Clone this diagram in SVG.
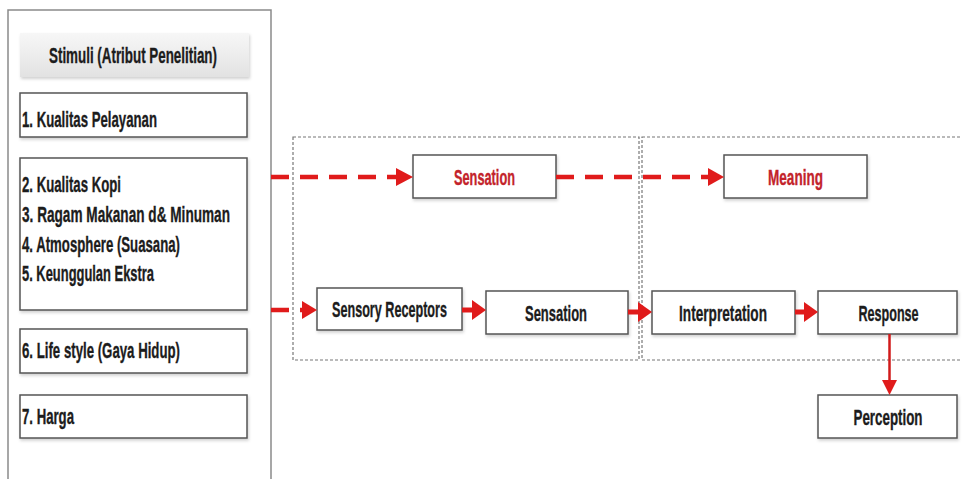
<svg xmlns="http://www.w3.org/2000/svg" width="962" height="479" viewBox="0 0 962 479">
<defs>
<linearGradient id="hdr" x1="0" y1="0" x2="0" y2="1">
<stop offset="0" stop-color="#f7f7f7"/>
<stop offset="1" stop-color="#e2e2e2"/>
</linearGradient>
<filter id="sh" x="-10%" y="-10%" width="120%" height="130%">
<feDropShadow dx="1" dy="2" stdDeviation="1.5" flood-color="#000" flood-opacity="0.18"/>
</filter>
</defs>
<style>
.box{fill:#fff;stroke:#555;stroke-width:1.5;filter:url(#sh)}
.t{font-family:"Liberation Sans",Arial,sans-serif;font-weight:bold;font-size:22.5px;fill:#1c1c1c;stroke:#1c1c1c;stroke-width:0.35}
.r{fill:#c3232b;stroke:#c3232b}
.c{text-anchor:middle}
.cont{fill:none;stroke:#777;stroke-width:1.2;stroke-dasharray:3 2}
.dl{stroke:#e01b1b;stroke-width:4.5;stroke-dasharray:18 11;fill:none}
.sl{stroke:#e01b1b;stroke-width:5;fill:none}
.ah{fill:#e01b1b}
</style>
<rect x="0" y="0" width="962" height="479" fill="#fff"/>
<g id="panel">
<rect x="8" y="10" width="263" height="480" fill="#fff" stroke="#8a8a8a" stroke-width="1.5"/>
</g>
<g id="container-left"><rect class="cont" x="293" y="137" width="346" height="223"/></g>
<g id="container-right"><rect class="cont" x="642" y="137" width="330" height="223"/></g>
<g id="stimuli-header">
<rect x="20" y="33" width="229" height="44" fill="url(#hdr)" filter="url(#sh)"/>
<text class="t c" x="133" y="63" textLength="168" lengthAdjust="spacingAndGlyphs">Stimuli (Atribut Penelitian)</text>
</g>
<g id="stim-1">
<rect class="box" x="20" y="93" width="227" height="44"/>
<text class="t" x="22" y="127" textLength="135" lengthAdjust="spacingAndGlyphs">1. Kualitas Pelayanan</text>
</g>
<g id="stim-2-5">
<rect class="box" x="20" y="158" width="227" height="152"/>
<text class="t" x="22" y="192" textLength="99" lengthAdjust="spacingAndGlyphs">2. Kualitas Kopi</text>
<text class="t" x="22" y="222" textLength="208" lengthAdjust="spacingAndGlyphs">3. Ragam Makanan d&amp; Minuman</text>
<text class="t" x="22" y="252" textLength="158" lengthAdjust="spacingAndGlyphs">4. Atmosphere (Suasana)</text>
<text class="t" x="22" y="281" textLength="132" lengthAdjust="spacingAndGlyphs">5. Keunggulan Ekstra</text>
</g>
<g id="stim-6">
<rect class="box" x="20" y="329" width="227" height="44"/>
<text class="t" x="22" y="358" textLength="158" lengthAdjust="spacingAndGlyphs">6. Life style (Gaya Hidup)</text>
</g>
<g id="stim-7">
<rect class="box" x="20" y="395" width="227" height="43"/>
<text class="t" x="22" y="424" textLength="52" lengthAdjust="spacingAndGlyphs">7. Harga</text>
</g>
<g id="sensation-top">
<rect class="box" x="413" y="155" width="143" height="43"/>
<text class="t r c" x="484.5" y="185" textLength="61" lengthAdjust="spacingAndGlyphs">Sensation</text>
</g>
<g id="meaning">
<rect class="box" x="724" y="155" width="143" height="43"/>
<text class="t r c" x="795.5" y="185" textLength="55" lengthAdjust="spacingAndGlyphs">Meaning</text>
</g>
<g id="sensory-receptors">
<rect class="box" x="317" y="288" width="145" height="42"/>
<text class="t c" x="389.5" y="317" textLength="115" lengthAdjust="spacingAndGlyphs">Sensory Receptors</text>
</g>
<g id="sensation-bottom">
<rect class="box" x="486" y="291" width="142" height="43"/>
<text class="t c" x="556" y="321" textLength="62" lengthAdjust="spacingAndGlyphs">Sensation</text>
</g>
<g id="interpretation">
<rect class="box" x="652" y="291" width="143" height="43"/>
<text class="t c" x="723" y="321" textLength="88" lengthAdjust="spacingAndGlyphs">Interpretation</text>
</g>
<g id="response">
<rect class="box" x="818" y="291" width="139" height="43"/>
<text class="t c" transform="translate(888.5 321) scale(0.56 1)" x="0" y="0">Response</text>
</g>
<g id="perception">
<rect class="box" x="818" y="395" width="139" height="43"/>
<text class="t c" transform="translate(888 425) scale(0.594 1)" x="0" y="0">Perception</text>
</g>
<g id="connectors">
<path class="dl" d="M271 177 H397"/>
<polygon class="ah" points="396,168 413,177 396,186"/>
<path class="dl" d="M556 177 H709"/>
<polygon class="ah" points="708,168 724,177 708,186"/>
<path class="dl" d="M271 310 H306"/>
<polygon class="ah" points="302,301 317,310 302,319"/>
<path class="sl" d="M462 310 H474"/>
<polygon class="ah" points="472,300 486,310 472,320"/>
<path class="sl" d="M628 312 H640"/>
<polygon class="ah" points="638,302 652,312 638,322"/>
<path class="sl" d="M795 312 H806"/>
<polygon class="ah" points="804,302 818,312 804,322"/>
<path d="M889.5 334 V382" stroke="#d11a1a" stroke-width="2.5" fill="none"/>
<polygon class="ah" points="882,380 889.5,395 897,380"/>
</g>
</svg>
